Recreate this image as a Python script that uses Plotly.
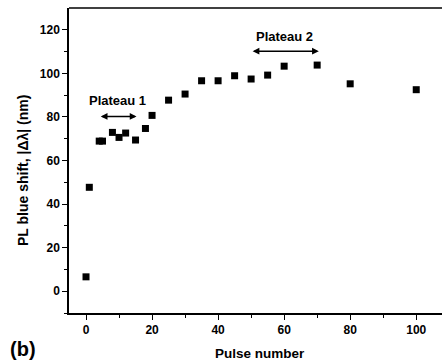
import plotly.graph_objects as go

pulse = [0, 1, 4, 5, 8, 10, 12, 15, 18, 20, 25, 30, 35, 40, 45, 50, 55, 60, 70, 80, 100]
shift = [6.6, 47.7, 68.9, 68.9, 72.9, 70.6, 72.6, 69.4, 74.7, 80.7, 87.7, 90.5, 96.6, 96.6, 98.9, 97.4, 99.2, 103.3, 103.8, 95.2, 92.5]

plateau_labels = ["Plateau 1", "Plateau 2"]
plateau_start = [4, 50]
plateau_end = [15.3, 70.5]
plateau_arrow_y = [80.2, 110.2]
plateau_text_y = [87.6, 117]

FONT = "Liberation Sans, Arial, sans-serif"

fig = go.Figure()
fig.add_trace(go.Scatter(
    x=pulse, y=shift, mode="markers",
    marker=dict(symbol="square", size=7, color="black", line=dict(width=0)),
    showlegend=False,
))

annotations = []
for lab, x0, x1, ya, yt in zip(plateau_labels, plateau_start, plateau_end, plateau_arrow_y, plateau_text_y):
    annotations.append(dict(
        x=x1, y=ya, ax=x0, ay=ya, xref="x", yref="y", axref="x", ayref="y",
        showarrow=True, arrowhead=2, startarrowhead=2, arrowside="end+start",
        arrowsize=0.9, startarrowsize=0.9, arrowwidth=1.5, arrowcolor="black", text="",
    ))
    annotations.append(dict(
        x=(x0 + x1) / 2, y=yt, xref="x", yref="y", text=lab, showarrow=False,
        xanchor="center", yanchor="middle",
        font=dict(family=FONT, size=13, color="black", weight="bold"),
    ))

annotations.append(dict(
    x=23, y=171, xref="paper", yref="paper", text="PL blue shift, |Δλ| (nm)",
    showarrow=False, textangle=-90, xanchor="center", yanchor="middle",
    font=dict(family=FONT, size=14, color="black", weight="bold"),
))
annotations.append(dict(
    x=260, y=353, xref="paper", yref="paper", text="Pulse number",
    showarrow=False, xanchor="center", yanchor="middle",
    font=dict(family=FONT, size=13.5, color="black", weight="bold"),
))
annotations.append(dict(
    x=23, y=349, xref="paper", yref="paper", text="(b)",
    showarrow=False, xanchor="center", yanchor="middle",
    font=dict(family=FONT, size=20, color="black", weight="bold"),
))

# convert pixel positions of the free-text annotations to paper coords
W, H = 442, 364
L, R, T, B = 69, 0, 8, 51
pw, ph = W - L - R, H - T - B
for a in annotations[-3:]:
    a["x"] = (a["x"] - L) / pw
    a["y"] = (H - B - a["y"]) / ph

fig.update_layout(
    width=W, height=H,
    margin=dict(l=L, r=R, t=T, b=B, pad=0),
    paper_bgcolor="white", plot_bgcolor="white",
    font=dict(family=FONT, size=12, color="black", weight="bold"),
    annotations=annotations,
    shapes=[dict(type="line", xref="paper", yref="paper", x0=0, x1=1, y0=1, y1=1,
                 line=dict(color="black", width=1.5))],
)
fig.update_xaxes(
    range=[-5.15, 107.8], tickvals=[0, 20, 40, 60, 80, 100],
    showline=True, linecolor="black", linewidth=1.5, ticks="outside", ticklen=5,
    tickwidth=1.2, tickcolor="black", showgrid=False, zeroline=False,
    minor=dict(tickvals=[10, 30, 50, 70, 90], ticks="outside", ticklen=3, tickcolor="black", tickwidth=1.2),
    tickfont=dict(family=FONT, size=12, color="black", weight="bold"),
)
fig.update_yaxes(
    range=[-10, 130], tickvals=[0, 20, 40, 60, 80, 100, 120],
    showline=True, linecolor="black", linewidth=1.5, ticks="outside", ticklen=5,
    tickwidth=1.2, tickcolor="black", showgrid=False, zeroline=False,
    minor=dict(tickvals=[-10, 10, 30, 50, 70, 90, 110], ticks="outside", ticklen=3, tickcolor="black", tickwidth=1.2),
    tickfont=dict(family=FONT, size=12, color="black", weight="bold"),
)

fig.write_html("out.html")
